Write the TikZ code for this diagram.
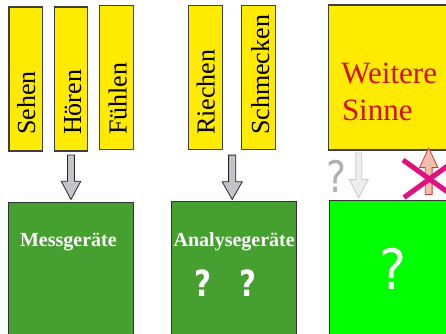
\documentclass[tikz,border=0pt]{standalone}
\usepackage{fontspec}
\setmainfont{Liberation Serif}
\newfontfamily\qfont{DejaVu Sans}
\usetikzlibrary{calc}
\definecolor{boxyellow}{RGB}{255,235,0}
\definecolor{darkgreen}{RGB}{70,160,48}
\definecolor{brightgreen}{RGB}{0,255,0}
\definecolor{arrowgray}{RGB}{196,196,200}
\definecolor{lightarrow}{RGB}{238,238,238}
\definecolor{lightarrowedge}{RGB}{200,200,200}
\definecolor{salmon}{RGB}{240,190,170}
\definecolor{arrowred}{RGB}{210,60,60}
\definecolor{crossmagenta}{RGB}{224,16,128}
\definecolor{sinnered}{RGB}{208,16,26}
\definecolor{qgray}{RGB}{176,176,176}
% block arrow: #1 style, #2 start, #3 tip, #4 shaft half width, #5 head half width, #6 head length
\newcommand\blockarr[6]{%
  \coordinate (bah) at ($(#3)!#6!(#2)$);
  \path[#1] ($(#2)!#4!90:(#3)$) -- ($(bah)!#4!90:(#3)$) -- ($(bah)!#5!90:(#3)$) -- (#3)
    -- ($(bah)!#5!-90:(#3)$) -- ($(bah)!#4!-90:(#3)$) -- ($(#2)!#4!-90:(#3)$) -- cycle;}
\begin{document}
\begin{tikzpicture}[x=1pt,y=-1pt,
  sensebox/.style={draw=black!75, line width=1.2pt, fill=boxyellow, minimum width=34pt, minimum height=144pt, inner sep=0pt},
  sensetext/.style={font=\fontsize{26}{30}\selectfont, inner sep=0pt, rotate=90, anchor=base west},
  devbox/.style={draw=black!80, line width=1pt, fill=darkgreen, minimum width=125.4pt, minimum height=200pt, inner sep=0pt},
  devtext/.style={font=\fontsize{20}{24}\selectfont\bfseries, text=white, inner sep=0pt, anchor=base},
  grayarrow/.style={draw=black!85, line width=0.8pt, fill=arrowgray},
  palearrow/.style={draw=lightarrowedge, line width=0.8pt, fill=lightarrow},
  uparrow/.style={draw=arrowred, line width=0.8pt, fill=salmon},
  crossline/.style={draw=crossmagenta, line width=5pt},
  qmark/.style={inner sep=0pt, anchor=base}]
\useasboundingbox (0,0) rectangle (446,333);
% top boxes
\node[sensebox, minimum width=33.5pt] (sehen) at (25.75,79) {};
\node[sensebox, minimum width=33.4pt] (hoeren) at (71,79) {};
\node[sensebox] (fuehlen) at (116.7,77.5) {};
\node[sensebox] (riechen) at (205.7,77.5) {};
\node[sensebox] (schmecken) at (258.7,77.5) {};
\node[sensetext] (sehenL) at (35,135) {Sehen};
\node[sensetext] (hoerenL) at (81.2,135) {Hören};
\node[sensetext] (fuehlenL) at (126.7,135) {Fühlen};
\node[sensetext] (riechenL) at (214.5,135) {Riechen};
\node[sensetext] (schmeckenL) at (269,135) {Schmecken};
\node[draw=black!75, line width=1.2pt, fill=boxyellow, minimum width=141.7pt, minimum height=145pt, inner sep=0pt] (weitere) at (399.15,77.5) {};
\node[font=\fontsize{31}{37}\selectfont, text=sinnered, inner sep=0pt, anchor=base west] (weitereL) at (341.2,83.3) {Weitere};
\node[font=\fontsize{31}{37}\selectfont, text=sinnered, inner sep=0pt, anchor=base west] (sinneL) at (341.8,120.7) {Sinne};
% bottom boxes
\node[devbox] (mess) at (71,302.3) {};
\node[devbox] (analyse) at (234,301.7) {};
\node[draw=black!80, line width=1pt, fill=brightgreen, minimum width=141pt, minimum height=200pt, inner sep=0pt] (unknown) at (399.5,300.7) {};
\node[devtext] (messL) at (68.4,246.7) {Messgeräte};
\node[devtext] (analyseL) at (234.2,246.7) {Analysegeräte};
\node[qmark, text=white] (q1) at (202.8,296.7) {\resizebox{17pt}{26.7pt}{\qfont\bfseries ?}};
\node[qmark, text=white] (q2) at (247.5,296.7) {\resizebox{17pt}{26.7pt}{\qfont\bfseries ?}};
\node[qmark, text=white] (q3) at (393,289) {\resizebox{27pt}{41.3pt}{\qfont ?}};
% arrows
\coordinate (a1s) at ($(hoeren.south)+(0,3.3)$);
\coordinate (a1t) at ($(mess.north)+(0,-2.3)$);
\blockarr{grayarrow}{a1s}{a1t}{3.5pt}{9.8pt}{18.3pt}
\coordinate (a2s) at ($(riechen.south east)!0.5!(schmecken.south west)+(0,5)$);
\coordinate (a2t) at ($(a2s |- analyse.north)+(0,-1.7)$);
\blockarr{grayarrow}{a2s}{a2t}{3.6pt}{10pt}{17.7pt}
\coordinate (a3s) at ($(weitere.south west)+(31,2.3)$);
\coordinate (a3t) at ($(a3s |- unknown.north)+(0,-2.4)$);
\blockarr{palearrow}{a3s}{a3t}{3pt}{9.5pt}{18.3pt}
\node[qmark, text=qgray] (q0) at (336.5,192.3) {\resizebox{20pt}{32.3pt}{\qfont ?}};
\coordinate (a4s) at ($(unknown.north west)+(100.2,-5.7)$);
\coordinate (a4t) at ($(a4s |- weitere.south)+(0,-2.5)$);
\blockarr{uparrow}{a4s}{a4t}{3.4pt}{9.2pt}{19.5pt}
\coordinate (x1a) at (403,160);
\coordinate (x1b) at (456,198);
\coordinate (x2a) at (404,197.5);
\coordinate (x2b) at (455,160.5);
\draw[crossline] (x1a) -- (x1b);
\draw[crossline] (x2a) -- (x2b);
\end{tikzpicture}
\end{document}
